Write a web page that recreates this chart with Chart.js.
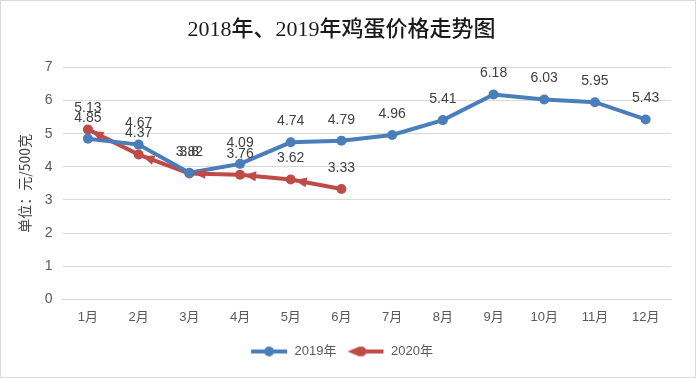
<!DOCTYPE html>
<html><head><meta charset="utf-8">
<script src="https://cdn.jsdelivr.net/npm/chart.js@4/dist/chart.umd.min.js"></script>
<style>
html,body{margin:0;padding:0;background:#fff;}
#wrap{position:absolute;left:0;top:0;width:694px;height:376px;border:1px solid #d9d9d9;background:#fff;}
</style></head>
<body><div id="wrap"><canvas id="c" width="694" height="376"></canvas></div>
<script>
const categories = ["1月","2月","3月","4月","5月","6月","7月","8月","9月","10月","11月","12月"];
const values2019 = [4.85,4.67,3.82,4.09,4.74,4.79,4.96,5.41,6.18,6.03,5.95,5.43];
const values2020 = [5.13,4.37,3.8,3.76,3.62,3.33];
const seriesNames = ["2019年","2020年"];
const titleText = "2018年、2019年鸡蛋价格走势图";
const yTitle = "单位：元/500克";

const BLUE = "#4a7ebb", RED = "#be4b48";
const SANS = "'Liberation Sans','Noto Sans CJK SC'";

function legendIcon(color, arrow){
  const c = document.createElement('canvas');
  c.width = 38; c.height = 12;
  const x = c.getContext('2d');
  x.strokeStyle = color; x.lineWidth = 4;
  x.beginPath(); x.moveTo(arrow?8:1,6); x.lineTo(37,6); x.stroke();
  x.fillStyle = color;
  x.beginPath(); x.arc(arrow?15:19,6,5,0,Math.PI*2); x.fill();
  if(arrow){ x.beginPath(); x.moveTo(1,6); x.lineTo(13,1); x.lineTo(13,11); x.closePath(); x.fill(); }
  return c;
}

const labelPlugin = {
  id:'vals',
  afterDatasetsDraw(chart){
    const ctx = chart.ctx;
    ctx.save();
    const m1 = chart.getDatasetMeta(1);
    ctx.fillStyle = RED;
    for(let i=0;i<m1.data.length-1;i++){
      const a=m1.data[i], b=m1.data[i+1];
      const dx=b.x-a.x, dy=b.y-a.y, L=Math.hypot(dx,dy), ux=dx/L, uy=dy/L;
      const tx=a.x+ux*4, ty=a.y+uy*4, bx=tx+ux*12, by=ty+uy*12;
      ctx.beginPath(); ctx.moveTo(tx,ty);
      ctx.lineTo(bx-uy*5,by+ux*5); ctx.lineTo(bx+uy*5,by-ux*5); ctx.closePath(); ctx.fill();
    }
    ctx.font = "14px " + SANS;
    ctx.fillStyle = "#404040"; ctx.textAlign='center'; ctx.textBaseline='middle';
    chart.data.datasets.forEach((ds,di)=>{
      chart.getDatasetMeta(di).data.forEach((p,i)=>{
        ctx.fillText(String(ds.data[i]), p.x, p.y-21);
      });
    });
    ctx.restore();
  }
};

new Chart(document.getElementById('c'),{
  type:'line',
  data:{labels:categories,datasets:[
    {label:seriesNames[0],data:values2019,borderColor:BLUE,backgroundColor:BLUE,borderWidth:4,pointRadius:5,pointHoverRadius:5,pointBackgroundColor:BLUE,pointBorderWidth:0,tension:0},
    {label:seriesNames[1],data:values2020,borderColor:RED,backgroundColor:RED,borderWidth:4,pointRadius:5,pointHoverRadius:5,pointBackgroundColor:RED,pointBorderWidth:0,tension:0}
  ]},
  options:{
    responsive:false,animation:false,
    layout:{padding:{left:11,right:24,top:8,bottom:9}},
    plugins:{
      title:{display:true,text:titleText,color:"#1a1a1a",font:{family:"'Liberation Serif','Noto Sans CJK SC'",size:22,weight:'500'},padding:{top:8,bottom:24}},
      legend:{position:'bottom',labels:{usePointStyle:true,pointStyleWidth:38,boxHeight:12,color:"#595959",font:{family:SANS,size:13},padding:10,
        generateLabels(chart){return chart.data.datasets.map((d,i)=>({text:d.label,pointStyle:legendIcon(i?RED:BLUE,i===1),fillStyle:d.borderColor,strokeStyle:d.borderColor,lineWidth:0,datasetIndex:i,hidden:false,fontColor:"#595959"}));}}},
      tooltip:{enabled:false}
    },
    scales:{
      x:{offset:true,grid:{display:false,drawTicks:false},border:{color:"#d9d9d9"},ticks:{color:"#595959",padding:10,font:{family:SANS,size:13}}},
      y:{min:0,max:7,ticks:{stepSize:1,color:"#595959",padding:10,font:{family:SANS,size:14}},grid:{color:"#d9d9d9",drawTicks:false},border:{display:false},
        title:{display:true,text:yTitle,color:"#404040",font:{family:"'Noto Sans CJK SC'",size:14},padding:{bottom:2}}}
    }
  },
  plugins:[labelPlugin]
});
</script></body></html>
